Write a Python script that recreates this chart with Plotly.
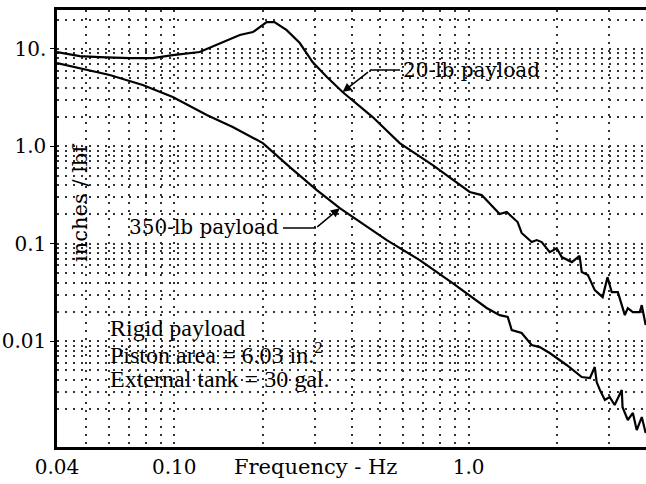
import math
import plotly.graph_objects as go

# ---- data ----
freq_20lb = [0.040, 0.0478, 0.0558, 0.0706, 0.0845, 0.0989, 0.122, 0.143, 0.167, 0.185,
             0.206, 0.219, 0.241, 0.267, 0.295, 0.330, 0.373, 0.472, 0.583, 0.755,
             1.008, 1.107, 1.274, 1.346, 1.466, 1.513, 1.636, 1.702, 1.770, 1.884,
             1.990, 2.07, 2.24, 2.38, 2.42, 2.54, 2.68, 2.85, 2.96, 3.06,
             3.21, 3.39, 3.47, 3.61, 3.81, 3.87, 3.99]
resp_20lb = [9.29, 8.45, 8.26, 8.07, 8.07, 8.65, 9.3, 11.5, 13.9, 14.9,
             18.9, 18.9, 15.6, 11.5, 7.34, 5.15, 3.61, 2.0, 1.08, 0.643,
             0.340, 0.316, 0.202, 0.212, 0.167, 0.129, 0.104, 0.109, 0.104, 0.082,
             0.090, 0.073, 0.0648, 0.075, 0.0512, 0.0477, 0.0334, 0.0283, 0.0454, 0.0318,
             0.0318, 0.0185, 0.0218, 0.0199, 0.0199, 0.0234, 0.0146]

freq_350lb = [0.040, 0.0478, 0.0604, 0.0782, 0.0989, 0.129, 0.158, 0.200, 0.247, 0.305,
              0.365, 0.527, 0.682, 0.882, 1.151, 1.274, 1.357, 1.400, 1.513, 1.636,
              1.742, 1.884, 2.15, 2.42, 2.58, 2.68, 2.72, 2.79, 2.90, 3.01,
              3.13, 3.31, 3.33, 3.47, 3.61, 3.72, 3.87, 3.99]
resp_350lb = [7.16, 6.37, 5.40, 4.26, 3.21, 2.10, 1.58, 1.08, 0.611, 0.356,
              0.232, 0.109, 0.0679, 0.0395, 0.0219, 0.0185, 0.0177, 0.0130, 0.0121, 0.00912,
              0.00869, 0.00755, 0.00569, 0.00428, 0.00418, 0.00542, 0.0038, 0.00315, 0.00249, 0.00267,
              0.00221, 0.00315, 0.0021, 0.00155, 0.00183, 0.00122, 0.00166, 0.00114]

x_tickvals = [0.04, 0.1, 1.0]
x_ticktext = ["0.04", "0.10", "1.0"]
y_tickvals = [0.01, 0.1, 1.0, 10.0]
y_ticktext = ["0.01", "0.1", "1.0", "10."]

x_minor = [0.05, 0.06, 0.07, 0.08, 0.09, 0.2, 0.3, 0.4, 0.5, 0.6, 0.7, 0.8, 0.9, 2, 3]
y_minor = [m * d for d in (0.001, 0.01, 0.1, 1.0, 10.0) for m in range(2, 10)]

FONT = "DejaVu Serif"
FONT2 = "Liberation Serif"

fig = go.Figure()
fig.add_trace(go.Scatter(x=freq_20lb, y=resp_20lb, mode="lines",
                         line=dict(color="black", width=2.2), showlegend=False))
fig.add_trace(go.Scatter(x=freq_350lb, y=resp_350lb, mode="lines",
                         line=dict(color="black", width=2.2), showlegend=False))

grid_col = "#333333"
gdash = "2px,6px"
fig.update_xaxes(type="log", range=[math.log10(0.04), math.log10(4.0)],
                 tickvals=x_tickvals, ticktext=x_ticktext, automargin=False,
                 showgrid=True, gridcolor=grid_col, griddash=gdash, gridwidth=1.5,
                 minor=dict(tickvals=x_minor, showgrid=True, gridcolor=grid_col,
                            griddash=gdash, gridwidth=1.5, ticks=""),
                 showline=True, linecolor="black", linewidth=2.5, mirror=True,
                 ticks="", tickfont=dict(family=FONT, size=20, color="black"),
                 zeroline=False)
fig.update_yaxes(type="log", range=[-3.087, 1.4], automargin=False,
                 tickvals=y_tickvals, ticktext=y_ticktext,
                 showgrid=True, gridcolor=grid_col, griddash=gdash, gridwidth=1.5,
                 minor=dict(tickvals=y_minor, showgrid=True, gridcolor=grid_col,
                            griddash=gdash, gridwidth=1.5, ticks=""),
                 showline=True, linecolor="black", linewidth=2.5, mirror=False,
                 ticks="outside", ticklen=4, tickcolor="black",
                 tickfont=dict(family=FONT, size=20, color="black"),
                 zeroline=False)

W, H = 646, 484
L, R, T, B = 57, 0, 10, 37
pw, ph = W - L - R, H - T - B


def px(xp):
    return (xp - L) / pw


def py(yp):
    return (H - B - yp) / ph


annos = [
    dict(text="Frequency - Hz", x=px(315), y=py(467), font=dict(family=FONT, size=21)),
    dict(text="inches / lbf", x=px(80), y=py(203), textangle=-90, font=dict(family=FONT, size=21)),
    dict(text="20-lb payload", x=px(401), y=py(70), xanchor="left", font=dict(family=FONT, size=20)),
    dict(text="350-lb payload", x=px(281), y=py(227), xanchor="right", font=dict(family=FONT, size=20)),
    dict(text="Rigid payload", x=px(108), y=py(328), xanchor="left", font=dict(family=FONT2, size=24)),
    dict(text="Piston area = 6.03 in.<sup>2</sup>", x=px(108), y=py(353), xanchor="left",
         font=dict(family=FONT2, size=24)),
    dict(text="External tank = 30 gal.", x=px(108), y=py(379), xanchor="left",
         font=dict(family=FONT2, size=24)),
]
for a in annos:
    a.setdefault("xanchor", "center")
    a["font"] = dict(color="black", **a["font"])
    fig.add_annotation(xref="paper", yref="paper", showarrow=False, yanchor="middle", **a)

# arrows (tips on the curves)
i20 = freq_20lb.index(0.373)
i350 = freq_350lb.index(0.365)
fig.add_annotation(x=math.log10(freq_20lb[i20]), y=math.log10(resp_20lb[i20]),
                   xref="x", yref="y", text="", showarrow=True, arrowhead=2,
                   arrowsize=1.2, arrowwidth=1.5, arrowcolor="black", ax=27, ay=-21)
fig.add_annotation(x=math.log10(freq_350lb[i350]), y=math.log10(resp_350lb[i350]),
                   xref="x", yref="y", text="", showarrow=True, arrowhead=2,
                   arrowsize=1.2, arrowwidth=1.5, arrowcolor="black", ax=-24, ay=20)
fig.add_shape(type="line", xref="paper", yref="paper", x0=px(370), x1=px(400),
              y0=py(70), y1=py(70), line=dict(color="black", width=1.5))
fig.add_shape(type="line", xref="paper", yref="paper", x0=px(283), x1=px(316),
              y0=py(228), y1=py(228), line=dict(color="black", width=1.5))

fig.update_layout(width=W, height=H, margin=dict(l=L, r=R, t=T, b=B),
                  paper_bgcolor="white", plot_bgcolor="white",
                  font=dict(family=FONT, color="black"), showlegend=False)

fig.write_html("out.html", config={"displayModeBar": False},
               post_script="document.body.style.margin='0';document.body.style.overflow='hidden';")
